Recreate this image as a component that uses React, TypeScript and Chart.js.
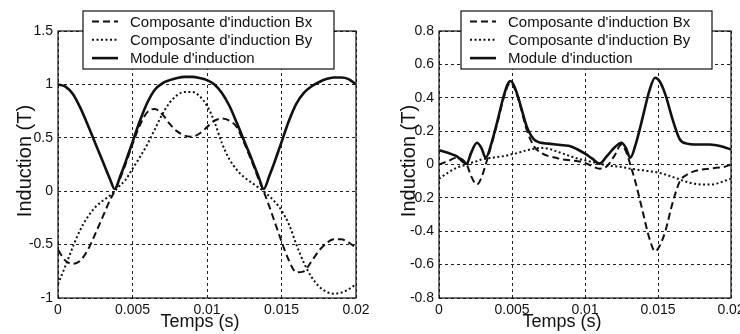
import React, { useEffect, useRef } from "react";
import { Chart, registerables } from "chart.js";

Chart.register(...registerables);

const FONT = "'Liberation Sans', Arial, Helvetica, sans-serif";
const INK = "#111";

// ---- Panel A: induction over one period ----
const timeA = [
  0, 0.0005, 0.001, 0.0015, 0.002, 0.0025, 0.003, 0.0035, 0.0038, 0.0042, 0.0045,
  0.005, 0.0055, 0.006, 0.0065, 0.007, 0.0075, 0.008, 0.0085, 0.009, 0.0095, 0.01,
  0.0105, 0.011, 0.0115, 0.012, 0.0125, 0.013, 0.0135, 0.0138, 0.0142, 0.0145, 0.015,
  0.0155, 0.016, 0.0165, 0.017, 0.0175, 0.018, 0.0185, 0.019, 0.0195, 0.02,
];
const bxA = [
  -0.55, -0.65, -0.68, -0.65, -0.55, -0.4, -0.24, -0.08, 0.0, 0.13, 0.24,
  0.44, 0.62, 0.74, 0.77, 0.72, 0.63, 0.56, 0.52, 0.51, 0.54, 0.6,
  0.66, 0.68, 0.66, 0.6, 0.45, 0.28, 0.1, 0.0, -0.15, -0.27, -0.47,
  -0.65, -0.76, -0.75, -0.66, -0.56, -0.49, -0.45, -0.45, -0.48, -0.53,
];
const byA = [
  -0.87, -0.7, -0.52, -0.36, -0.24, -0.15, -0.09, -0.04, 0.0, 0.06, 0.1,
  0.21, 0.32, 0.44, 0.58, 0.72, 0.83, 0.9, 0.93, 0.93, 0.89, 0.8,
  0.65, 0.45, 0.3, 0.2, 0.13, 0.08, 0.03, 0.0, -0.05, -0.09, -0.18,
  -0.31, -0.5, -0.67, -0.8, -0.89, -0.94, -0.96, -0.95, -0.92, -0.87,
];
const modA = [
  1.0, 0.98, 0.91, 0.78, 0.62, 0.45, 0.28, 0.11, 0.02, 0.15, 0.26,
  0.46, 0.66, 0.83, 0.95, 1.01, 1.04, 1.06, 1.07, 1.07, 1.06, 1.04,
  1.0, 0.92, 0.8, 0.64, 0.47, 0.3, 0.12, 0.02, 0.15, 0.26, 0.46,
  0.66, 0.82, 0.92, 0.98, 1.02, 1.05, 1.065, 1.065, 1.05, 1.0,
];

// ---- Panel B: induction over one period ----
const timeB = [
  0, 0.0006, 0.0012, 0.0019, 0.0022, 0.0026, 0.0029, 0.0032, 0.0036, 0.004, 0.0044,
  0.0047, 0.0049, 0.0052, 0.0056, 0.006, 0.0065, 0.007, 0.0075, 0.008, 0.0085, 0.009,
  0.0095, 0.01, 0.0105, 0.011, 0.0115, 0.012, 0.0125, 0.0128, 0.0131, 0.0135, 0.014,
  0.0144, 0.0148, 0.0151, 0.0155, 0.016, 0.0165, 0.017, 0.0175, 0.018, 0.0185, 0.019,
  0.0195, 0.02,
];
const bxB = [
  0.0, 0.02, 0.04, 0.0, -0.07, -0.12, -0.08, 0.0, 0.12, 0.25, 0.39,
  0.47, 0.49, 0.45, 0.34, 0.21, 0.11, 0.07, 0.05, 0.04, 0.03, 0.025,
  0.02, 0.01, -0.01, -0.025, -0.01, 0.05, 0.12, 0.08, 0.0, -0.12, -0.3,
  -0.44, -0.52, -0.49, -0.4, -0.23, -0.1, -0.06, -0.04, -0.03, -0.025, -0.02,
  -0.015, 0.0,
];
const byB = [
  -0.085, -0.05, -0.02, 0.0, 0.01, 0.02, 0.03, 0.035, 0.04, 0.045, 0.05,
  0.055, 0.06, 0.065, 0.075, 0.085, 0.095, 0.1, 0.095, 0.08, 0.065, 0.05,
  0.035, 0.025, 0.015, 0.005, -0.005, -0.01, -0.015, -0.02, -0.025, -0.03, -0.035,
  -0.04, -0.045, -0.05, -0.06, -0.075, -0.09, -0.105, -0.115, -0.12, -0.12, -0.115,
  -0.1, -0.085,
];
const modB = [
  0.085, 0.07, 0.05, 0.005, 0.07, 0.13, 0.1, 0.04, 0.13, 0.26, 0.4,
  0.48, 0.5, 0.46, 0.35, 0.23, 0.15, 0.13, 0.125, 0.12, 0.115, 0.11,
  0.09, 0.065, 0.035, 0.005, 0.05, 0.1, 0.13, 0.1, 0.04, 0.13, 0.3,
  0.44, 0.52, 0.5, 0.42, 0.27, 0.15, 0.125, 0.12, 0.12, 0.12, 0.115,
  0.105, 0.09,
];

// ---- Axes and labels ----
const xTicks = [0, 0.005, 0.01, 0.015, 0.02];
const xTickLabels = ["0", "0.005", "0.01", "0.015", "0.02"];
const yTicksA = [-1, -0.5, 0, 0.5, 1, 1.5];
const yTickLabelsA = ["-1", "-0.5", "0", "0.5", "1", "1.5"];
const yTicksB = [-0.8, -0.6, -0.4, -0.2, 0, 0.2, 0.4, 0.6, 0.8];
const yTickLabelsB = ["-0.8", "-0.6", "-0.4", "-0.2", "0", "0.2", "0.4", "0.6", "0.8"];
const seriesLabels = [
  "Composante d'induction Bx",
  "Composante d'induction By",
  "Module d'induction",
];
const xTitle = "Temps (s)";
const yTitle = "Induction (T)";

const toPoints = (t: number[], v: number[]) => t.map((x, i) => ({ x, y: v[i] }));

// Frame, legend box and axis titles drawn over the plot
const overlayPlugin = {
  id: "overlay",
  afterDraw(chart: any, _args: any, opts: any) {
    const { ctx, chartArea: a } = chart;
    ctx.save();
    ctx.setLineDash([]);
    ctx.strokeStyle = INK;
    ctx.lineWidth = 1.2;
    ctx.strokeRect(a.left, a.top, a.right - a.left, a.bottom - a.top);

    const L = opts.legend;
    ctx.fillStyle = "#fff";
    ctx.fillRect(L.x, L.y, L.w, L.h);
    ctx.lineWidth = 1.2;
    ctx.strokeRect(L.x, L.y, L.w, L.h);
    chart.data.datasets.forEach((ds: any, i: number) => {
      const y = L.y + L.row0 + i * L.rowGap;
      ctx.beginPath();
      ctx.setLineDash(ds.borderDash || []);
      ctx.lineWidth = ds.borderWidth;
      ctx.strokeStyle = ds.borderColor;
      ctx.moveTo(L.x + L.s0, y);
      ctx.lineTo(L.x + L.s1, y);
      ctx.stroke();
      ctx.setLineDash([]);
      ctx.fillStyle = INK;
      ctx.font = `15px ${FONT}`;
      ctx.textAlign = "left";
      ctx.textBaseline = "middle";
      ctx.fillText(ds.label, L.x + L.tx, y + 1);
    });

    ctx.fillStyle = INK;
    ctx.textAlign = "center";
    ctx.textBaseline = "alphabetic";
    ctx.font = `18px ${FONT}`;
    ctx.fillText(xTitle, opts.xTitle.x, opts.xTitle.y);

    ctx.save();
    ctx.translate(opts.yTitle.x, opts.yTitle.y);
    ctx.rotate(-Math.PI / 2);
    ctx.font = `20px ${FONT}`;
    ctx.textBaseline = "middle";
    ctx.fillText(yTitle, 0, 0);
    ctx.restore();

    ctx.restore();
  },
};

type PanelCfg = {
  left: number;
  time: number[];
  bx: number[];
  by: number[];
  mod: number[];
  yMin: number;
  yMax: number;
  yTicks: number[];
  yTickLabels: string[];
  axisWidth: number;
  padRight: number;
  legendX: number;
  yTitleX: number;
  xTitleX: number;
};

function Panel({ cfg }: { cfg: PanelCfg }) {
  const ref = useRef<HTMLCanvasElement>(null);

  useEffect(() => {
    const lineBase = { pointRadius: 0, borderColor: INK, cubicInterpolationMode: "monotone" as const, fill: false };
    const chart = new Chart(ref.current!, {
      type: "line",
      data: {
        datasets: [
          { ...lineBase, label: seriesLabels[0], data: toPoints(cfg.time, cfg.bx), borderWidth: 2, borderDash: [7, 4] },
          { ...lineBase, label: seriesLabels[1], data: toPoints(cfg.time, cfg.by), borderWidth: 2, borderDash: [2, 2.5] },
          { ...lineBase, label: seriesLabels[2], data: toPoints(cfg.time, cfg.mod), borderWidth: 2.6, borderDash: [] },
        ],
      },
      options: {
        animation: false,
        responsive: false,
        events: [],
        layout: { autoPadding: false, padding: { left: 0, right: cfg.padRight, top: 31, bottom: 0 } },
        plugins: {
          legend: { display: false },
          tooltip: { enabled: false },
          overlay: {
            legend: { x: cfg.legendX, y: 11, w: 251, h: 58, row0: 10.5, rowGap: 18.3, s0: 9, s1: 35, tx: 47 },
            xTitle: { x: cfg.xTitleX, y: 327 },
            yTitle: { x: cfg.yTitleX, y: 161 },
          },
        } as any,
        scales: {
          x: {
            type: "linear",
            min: 0,
            max: 0.02,
            afterBuildTicks: (s: any) => {
              s.ticks = xTicks.map((v) => ({ value: v }));
            },
            afterFit: (s: any) => {
              s.height = 36;
              s.paddingLeft = 0;
              s.paddingRight = 0;
            },
            ticks: {
              padding: 4,
              color: INK,
              font: { family: FONT, size: 14 },
              maxRotation: 0,
              callback: (_v: any, i: number) => xTickLabels[i],
            },
            grid: { color: "#222", lineWidth: 1, drawTicks: false },
            border: { display: false, dash: [3, 3] },
          },
          y: {
            type: "linear",
            min: cfg.yMin,
            max: cfg.yMax,
            afterBuildTicks: (s: any) => {
              s.ticks = cfg.yTicks.map((v) => ({ value: v }));
            },
            afterFit: (s: any) => {
              s.width = cfg.axisWidth;
              s.paddingTop = 0;
              s.paddingBottom = 0;
            },
            ticks: {
              padding: 5,
              color: INK,
              font: { family: FONT, size: 14 },
              callback: (_v: any, i: number) => cfg.yTickLabels[i],
            },
            grid: { color: "#222", lineWidth: 1, drawTicks: false },
            border: { display: false, dash: [3, 3] },
          },
        },
      },
      plugins: [overlayPlugin],
    });
    return () => chart.destroy();
  }, [cfg]);

  return (
    <canvas
      ref={ref}
      width={370}
      height={334}
      style={{ position: "absolute", left: cfg.left, top: 0, width: 370, height: 334 }}
    />
  );
}

const panelA: PanelCfg = {
  left: 0,
  time: timeA,
  bx: bxA,
  by: byA,
  mod: modA,
  yMin: -1,
  yMax: 1.5,
  yTicks: yTicksA,
  yTickLabels: yTickLabelsA,
  axisWidth: 58,
  padRight: 14,
  legendX: 83,
  yTitleX: 25,
  xTitleX: 200,
};

const panelB: PanelCfg = {
  left: 370,
  time: timeB,
  bx: bxB,
  by: byB,
  mod: modB,
  yMin: -0.8,
  yMax: 0.8,
  yTicks: yTicksB,
  yTickLabels: yTickLabelsB,
  axisWidth: 69,
  padRight: 9,
  legendX: 91,
  yTitleX: 39,
  xTitleX: 192,
};

export default function App() {
  return (
    <div
      style={{
        position: "absolute",
        left: 0,
        top: 0,
        width: 740,
        height: 334,
        overflow: "hidden",
        background: "#fff",
      }}
    >
      <Panel cfg={panelA} />
      <Panel cfg={panelB} />
    </div>
  );
}
